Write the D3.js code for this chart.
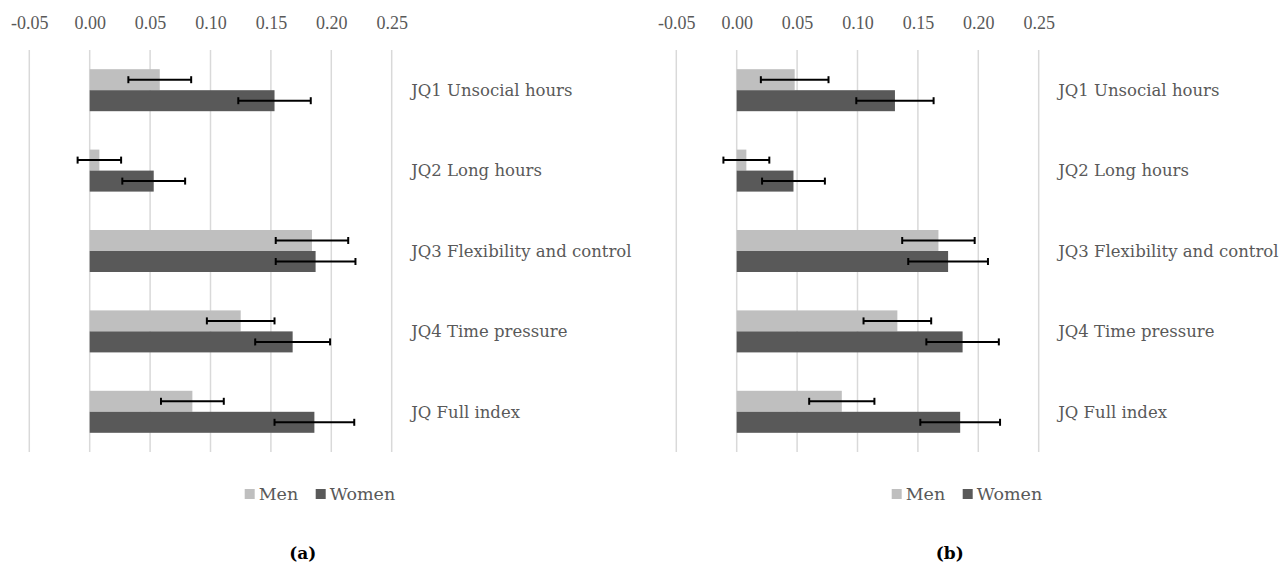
<!DOCTYPE html>
<html>
<head>
<meta charset="utf-8">
<script src="https://cdn.jsdelivr.net/npm/d3@7"></script>
<style>
  html, body { margin: 0; padding: 0; background: #fff; }
  svg { display: block; }
</style>
</head>
<body>
<svg id="chart" width="1279" height="564"></svg>
<script>
// ---------- data ----------
const categories = ["JQ1 Unsocial hours", "JQ2 Long hours", "JQ3 Flexibility and control", "JQ4 Time pressure", "JQ Full index"];
const tickValues = [-0.05, 0, 0.05, 0.10, 0.15, 0.20, 0.25];
const seriesNames = ["Men", "Women"];
const panelLabels = ["(a)", "(b)"];

// Panel (a)
const menA      = [0.058, 0.008, 0.184, 0.125, 0.085];
const menErrA   = [0.026, 0.018, 0.030, 0.028, 0.026];
const womenA    = [0.153, 0.053, 0.187, 0.168, 0.186];
const womenErrA = [0.030, 0.026, 0.033, 0.031, 0.033];

// Panel (b)
const menB      = [0.048, 0.008, 0.167, 0.133, 0.087];
const menErrB   = [0.028, 0.019, 0.030, 0.028, 0.027];
const womenB    = [0.131, 0.047, 0.175, 0.187, 0.185];
const womenErrB = [0.032, 0.026, 0.033, 0.030, 0.033];

// ---------- styles ----------
const colors = { Men: "#bfbfbf", Women: "#595959" };
const textColor = "#595959";
const gridColor = "#d9d9d9";

const svg = d3.select("#chart");

const yTop = 50, yBottom = 452;
const barH = 21;

function drawPanel(offsetX, men, menErr, women, womenErr, label) {
  const g = svg.append("g");
  const x = d3.scaleLinear().domain([-0.05, 0.25]).range([29.3 + offsetX, 391.7 + offsetX]);
  const y = d3.scaleBand().domain(categories).range([yTop, yBottom]).paddingInner(0).paddingOuter(0);
  const pad = (y.bandwidth() - 2 * barH) / 2 / barH;
  const ySub = d3.scaleBand().domain(seriesNames).range([0, y.bandwidth()]).paddingInner(0).paddingOuter(pad);

  // gridlines
  g.append("g").selectAll("line").data(tickValues).join("line")
    .attr("x1", d => x(d)).attr("x2", d => x(d))
    .attr("y1", yTop).attr("y2", yBottom)
    .attr("stroke", gridColor).attr("stroke-width", 1.5);

  // top axis labels
  const axis = d3.axisTop(x).tickValues(tickValues).tickSize(0).tickPadding(0)
    .tickFormat(d => d.toFixed(2));
  const ag = g.append("g").attr("transform", "translate(0,29)").call(axis);
  ag.select(".domain").remove();
  ag.selectAll("text")
    .attr("fill", textColor)
    .style("font-family", "'Liberation Serif', serif")
    .style("font-size", "18px");

  const rows = categories.map((c, i) => [
    { cat: c, s: "Men", v: men[i], e: menErr[i] },
    { cat: c, s: "Women", v: women[i], e: womenErr[i] }
  ]).flat();

  // bars
  g.append("g").selectAll("rect").data(rows).join("rect")
    .attr("x", d => Math.min(x(0), x(d.v)))
    .attr("width", d => Math.abs(x(d.v) - x(0)))
    .attr("y", d => y(d.cat) + ySub(d.s))
    .attr("height", ySub.bandwidth())
    .attr("fill", d => colors[d.s]);

  // error bars
  const eg = g.append("g").attr("stroke", "#000").attr("stroke-width", 2).attr("fill", "none");
  const cy = d => y(d.cat) + ySub(d.s) + ySub.bandwidth() / 2;
  eg.selectAll("line.eb").data(rows).join("line").attr("class", "eb")
    .attr("x1", d => x(d.v - d.e)).attr("x2", d => x(d.v + d.e))
    .attr("y1", cy).attr("y2", cy);
  eg.selectAll("line.capL").data(rows).join("line").attr("class", "capL")
    .attr("x1", d => x(d.v - d.e)).attr("x2", d => x(d.v - d.e))
    .attr("y1", d => cy(d) - 3.5).attr("y2", d => cy(d) + 3.5);
  eg.selectAll("line.capR").data(rows).join("line").attr("class", "capR")
    .attr("x1", d => x(d.v + d.e)).attr("x2", d => x(d.v + d.e))
    .attr("y1", d => cy(d) - 3.5).attr("y2", d => cy(d) + 3.5);

  // category labels
  g.append("g").selectAll("text").data(categories).join("text")
    .attr("x", x(0) + 321.5)
    .attr("y", d => y(d) + y.bandwidth() / 2)
    .attr("dy", "0.35em")
    .attr("fill", textColor)
    .style("font-family", "'DejaVu Serif', serif")
    .style("font-size", "16.5px")
    .text(d => d);

  // legend
  const legX = [x(0) + 155, x(0) + 226];
  const lg = g.append("g");
  seriesNames.forEach((s, i) => {
    lg.append("rect").attr("x", legX[i]).attr("y", 489).attr("width", 10).attr("height", 10).attr("fill", colors[s]);
    lg.append("text").attr("x", legX[i] + 14).attr("y", 499.5)
      .attr("fill", textColor)
      .style("font-family", "'DejaVu Serif', serif")
      .style("font-size", "17.5px")
      .text(s);
  });

  // panel caption
  g.append("text").attr("x", x(0) + 213).attr("y", 559)
    .attr("text-anchor", "middle")
    .attr("fill", "#000")
    .style("font-family", "'DejaVu Serif', serif")
    .style("font-size", "17px")
    .style("font-weight", "bold")
    .text(label);
}

drawPanel(0, menA, menErrA, womenA, womenErrA, panelLabels[0]);
drawPanel(647, menB, menErrB, womenB, womenErrB, panelLabels[1]);
</script>
</body>
</html>
